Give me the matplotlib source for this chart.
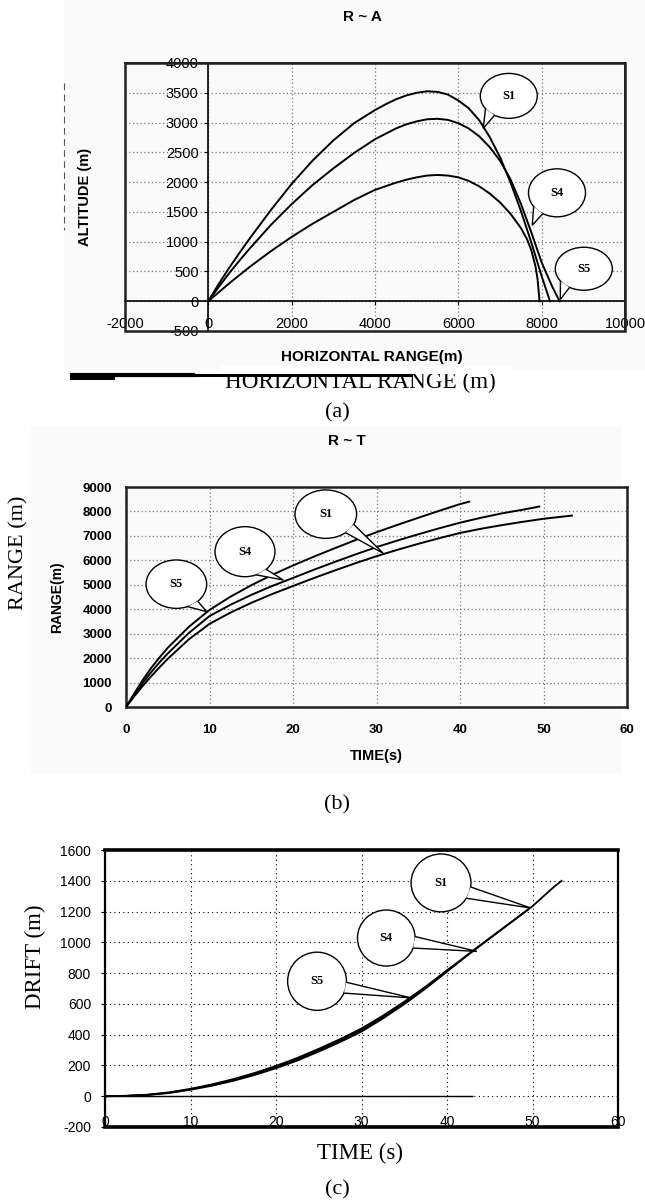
import matplotlib
matplotlib.use('Agg')
import matplotlib.pyplot as plt
from matplotlib.patches import Ellipse, Polygon, Rectangle
from matplotlib.lines import Line2D
import numpy as np

plt.rcParams['axes.unicode_minus'] = False
SANS = ['Liberation Sans', 'DejaVu Sans']
SERIF = ['Liberation Serif', 'DejaVu Serif']

# ---------------- (a) R ~ A : altitude vs horizontal range ----------------
a_xticks = [-2000, 0, 2000, 4000, 6000, 8000, 10000]
a_yticks = [-500, 0, 500, 1000, 1500, 2000, 2500, 3000, 3500, 4000]
a_high_x = [0, 250, 500, 750, 1000, 1500, 2000, 2500, 3000, 3500, 4000, 4250, 4500,
            4750, 5000, 5250, 5500, 5750, 6000, 6250, 6500, 6750, 7000, 7250, 7500,
            7750, 8000, 8200]
a_high_y = [0, 290, 560, 815, 1060, 1530, 1970, 2360, 2700, 2990, 3210, 3305, 3390,
            3455, 3500, 3525, 3515, 3470, 3370, 3240, 3040, 2760, 2420, 2000, 1520,
            990, 420, 0]
a_mid_x = [0, 250, 500, 750, 1000, 1500, 2000, 2500, 3000, 3500, 4000, 4500, 4750,
           5000, 5250, 5500, 5750, 6000, 6250, 6500, 6750, 7000, 7250, 7500, 7750,
           8000, 8250, 8430]
a_mid_y = [0, 240, 470, 685, 890, 1280, 1630, 1950, 2230, 2490, 2720, 2900, 2970,
           3020, 3055, 3063, 3045, 2990, 2900, 2770, 2590, 2360, 2050, 1640, 1160,
           650, 250, 0]
a_low_x = [0, 250, 500, 750, 1000, 1500, 2000, 2500, 3000, 3500, 4000, 4500, 4750,
           5000, 5250, 5500, 5750, 6000, 6250, 6500, 6750, 7000, 7250, 7500, 7650,
           7750, 7850, 7900, 7950]
a_low_y = [0, 150, 300, 440, 580, 840, 1080, 1300, 1500, 1700, 1870, 1990, 2040,
           2080, 2110, 2120, 2110, 2080, 2020, 1930, 1810, 1660, 1470, 1230, 1040,
           860, 590, 380, 0]

# ---------------- (b) R ~ T : range vs time ----------------
b_xticks = [0, 10, 20, 30, 40, 50, 60]
b_yticks = [0, 1000, 2000, 3000, 4000, 5000, 6000, 7000, 8000, 9000]
b_s5_t = [0, 1, 2, 3, 4, 5, 7.5, 10, 12.5, 15, 17.5, 20, 22.5, 25, 27.5, 30, 32.5, 35,
          37.5, 40, 41.1]
b_s5_r = [0, 560, 1100, 1590, 2020, 2420, 3270, 3970, 4510, 4980, 5405, 5790, 6150, 6495,
          6830, 7150, 7450, 7740, 8025, 8300, 8400]
b_s4_t = [0, 1, 2, 3, 4, 5, 7.5, 10, 12.5, 15, 17.5, 20, 22.5, 25, 27.5, 30, 32.5, 35,
          37.5, 40, 42.5, 45, 47.5, 49.5]
b_s4_r = [0, 500, 980, 1420, 1820, 2190, 3020, 3720, 4180, 4585, 4950, 5280, 5615, 5935,
          6245, 6540, 6810, 7065, 7310, 7540, 7740, 7920, 8070, 8200]
b_s1_t = [0, 1, 2, 3, 4, 5, 7.5, 10, 12.5, 15, 17.5, 20, 22.5, 25, 27.5, 30, 32.5, 35,
          37.5, 40, 42.5, 45, 47.5, 50, 53.4]
b_s1_r = [0, 440, 860, 1250, 1620, 1970, 2760, 3400, 3860, 4260, 4620, 4950, 5275, 5585,
          5885, 6170, 6430, 6675, 6905, 7120, 7290, 7440, 7575, 7700, 7830]

# ---------------- (c) drift vs time ----------------
c_xticks = [0, 10, 20, 30, 40, 50, 60]
c_yticks = [-200, 0, 200, 400, 600, 800, 1000, 1200, 1400, 1600]
c_s1_t = [0, 2.5, 5, 7.5, 10, 12.5, 15, 17.5, 20, 22.5, 25, 27.5, 30, 32.5, 35, 37.5,
          40, 42.5, 45, 47.5, 50, 52.5, 53.4]
c_s1_d = [0, 2, 8, 21, 42, 68, 100, 138, 182, 232, 290, 352, 420, 505, 598, 700,
          810, 920, 1025, 1130, 1235, 1360, 1400]
c_s4_t = [0, 2.5, 5, 7.5, 10, 12.5, 15, 17.5, 20, 22.5, 25, 27.5, 30, 32.5, 35, 37.5,
          40, 42.5, 45, 47.5, 49.5]
c_s4_d = [0, 2, 9, 23, 45, 73, 106, 145, 190, 241, 299, 362, 430, 514, 606, 707,
          816, 924, 1028, 1131, 1214]
c_s5_t = [0, 2.5, 5, 7.5, 10, 12.5, 15, 17.5, 20, 22.5, 25, 27.5, 30, 32.5, 35, 37.5,
          40, 41]
c_s5_d = [0, 3, 10, 25, 48, 77, 111, 151, 197, 249, 308, 371, 440, 523, 614, 712,
          818, 858]

W, H = 645, 1204
fig = plt.figure(figsize=(W / 100, H / 100), dpi=100)
fig.patch.set_facecolor('white')


def add_axes(l, t, r, b):
    ax = fig.add_axes([l / W, 1 - b / H, (r - l) / W, (b - t) / H])
    ax.set_facecolor('none')
    return ax


def ftext(px, py, s, **kw):
    fig.text(px / W, 1 - py / H, s, **kw)


def fline(xs, ys, **kw):
    fig.add_artist(Line2D([x / W for x in xs], [1 - y / H for y in ys], **kw))


def callout(ax, label, cx, cy, rx, ry, tip, angles, fs=9):
    ax.add_patch(Ellipse((cx, cy), 2 * rx, 2 * ry, facecolor='white',
                         edgecolor='black', lw=1.0, zorder=5))
    pts = []
    for a in angles:
        t = np.deg2rad(a)
        pts.append((cx + rx * np.cos(t), cy + ry * np.sin(t)))
    ax.add_patch(Polygon([pts[0], tip, pts[1]], closed=False, facecolor='white',
                         edgecolor='black', lw=1.0, zorder=6))
    ax.text(cx, cy, label, ha='center', va='center', family=SERIF,
            fontweight='bold', fontsize=fs, zorder=7)


# faint scan background
fig.add_artist(Rectangle((64 / W, 1 - 370 / H), (645 - 64) / W, 370 / H,
                         transform=fig.transFigure, facecolor='#fafafa',
                         edgecolor='none', zorder=-10))
fig.add_artist(Rectangle((31 / W, 1 - 773 / H), (621 - 31) / W, (773 - 427) / H,
                         transform=fig.transFigure, facecolor='#fafafa',
                         edgecolor='none', zorder=-10))

grid_kw = dict(color='#777777', linestyle=(0, (1, 2)), linewidth=0.9)

# ======================= (a) =======================
axA = add_axes(125, 63, 625, 331)
axA.set_xlim(-2000, 10000)
axA.set_ylim(-500, 4000)
axA.spines['left'].set_position(('data', 0))
axA.spines['bottom'].set_position(('data', 0))
for s in axA.spines.values():
    s.set_linewidth(1.2)
axA.add_patch(Rectangle((0, 0), 1, 1, transform=axA.transAxes, fill=False,
                        lw=1.8, edgecolor='#222222', clip_on=False, zorder=10))
axA.set_xticks(a_xticks)
axA.set_yticks(a_yticks)
axA.tick_params(length=3, width=0.8, labelsize=10.5)
axA.tick_params(axis='x', pad=8)
axA.tick_params(axis='y', pad=4)
for lab in axA.get_xticklabels() + axA.get_yticklabels():
    lab.set_family(SANS)
axA.grid(True, **grid_kw)
axA.set_axisbelow(True)
for xs, ys in [(a_high_x, a_high_y), (a_mid_x, a_mid_y), (a_low_x, a_low_y)]:
    axA.plot(xs, ys, color='black', lw=1.4, zorder=3)
callout(axA, 'S1', 7211, 3448, 684, 377, (6600, 2903), (215, 240))
callout(axA, 'S4', 8368, 1820, 684, 403, (7775, 1275), (215, 240))
callout(axA, 'S5', 9011, 545, 684, 361, (8447, 30), (215, 240))

ftext(362, 17, 'R ~ A', family=SANS, fontweight='bold', fontsize=11,
      ha='center', va='center')
ftext(372, 357, 'HORIZONTAL RANGE(m)', family=SANS, fontweight='bold',
      fontsize=11, ha='center', va='center')
ftext(85, 197, 'ALTITUDE (m)', family=SANS, fontweight='bold', fontsize=10.5,
      ha='center', va='center', rotation=90)
ftext(225, 388, 'HORIZONTAL RANGE (m)', family=SERIF, fontsize=16.7,
      ha='left', va='baseline')
fig.add_artist(Rectangle((220 / W, 1 - 374 / H), 290 / W, 8 / H,
                         transform=fig.transFigure, facecolor='white',
                         edgecolor='none', zorder=20))
fline([72, 411], [375.5, 375.5], color='black', lw=2.2, zorder=21)
fline([72, 193], [375.5, 375.5], color='black', lw=3.0, zorder=21)
fline([72, 112], [376.5, 376.5], color='black', lw=3.6, zorder=21)
fline([64, 64], [83, 230], color='#555555', lw=0.8, linestyle=(0, (6, 4)))
ftext(337, 413, '(a)', family=SERIF, fontsize=16, ha='center', va='center')

# ======================= (b) =======================
axB = add_axes(126, 487, 627, 707)
axB.set_xlim(0, 60)
axB.set_ylim(0, 9000)
for s in axB.spines.values():
    s.set_linewidth(1.8)
    s.set_edgecolor('#222222')
axB.set_xticks(b_xticks)
axB.set_yticks(b_yticks)
axB.tick_params(length=0, labelsize=9.5)
axB.tick_params(axis='x', pad=12)
axB.tick_params(axis='y', pad=10)
for lab in axB.get_xticklabels() + axB.get_yticklabels():
    lab.set_family(SANS)
    lab.set_fontweight('bold')
axB.grid(True, **grid_kw)
axB.set_axisbelow(True)
for ts, rs in [(b_s5_t, b_s5_r), (b_s4_t, b_s4_r), (b_s1_t, b_s1_r)]:
    axB.plot(ts, rs, color='black', lw=1.4, zorder=3)
callout(axB, 'S1', 23.93, 7889, 3.69, 990, (30.8, 6289), (-25, -50))
callout(axB, 'S4', 14.25, 6354, 3.59, 1023, (18.84, 5196), (-45, -68))
callout(axB, 'S5', 6.03, 5025, 3.63, 990, (9.66, 3900), (-45, -68))

ftext(347, 441, 'R ~ T', family=SANS, fontweight='bold', fontsize=11,
      ha='center', va='center')
ftext(376, 756, 'TIME(s)', family=SANS, fontweight='bold', fontsize=10.5,
      ha='center', va='center')
ftext(57, 597, 'RANGE(m)', family=SANS, fontweight='bold', fontsize=10,
      ha='center', va='center', rotation=90)
ftext(19, 553, 'RANGE (m)', family=SERIF, fontsize=16, ha='center',
      va='center', rotation=90)
ftext(337, 805, '(b)', family=SERIF, fontsize=16, ha='center', va='center')

# ======================= (c) =======================
axC = add_axes(105, 850, 618, 1127)
axC.set_xlim(0, 60)
axC.set_ylim(-200, 1600)
axC.spines['top'].set_linewidth(2.6)
axC.spines['bottom'].set_linewidth(2.6)
axC.spines['left'].set_linewidth(1.6)
axC.spines['right'].set_linewidth(1.6)
axC.set_xticks(c_xticks)
axC.set_yticks(c_yticks)
axC.tick_params(axis='y', length=3, labelsize=10, pad=7)
axC.tick_params(axis='x', length=0, labelsize=10, pad=-9)
for lab in axC.get_xticklabels() + axC.get_yticklabels():
    lab.set_family(SANS)
axC.grid(True, color='black', linestyle=(0, (1, 3)), linewidth=0.8)
axC.set_axisbelow(True)
axC.hlines(0, 0, 43, color='black', lw=1.0, zorder=2)
for ts, ds in [(c_s1_t, c_s1_d), (c_s4_t, c_s4_d), (c_s5_t, c_s5_d)]:
    axC.plot(ts, ds, color='black', lw=1.3, zorder=3)
callout(axC, 'S1', 39.3, 1386, 3.5, 188, (49.8, 1223), (-8, -32))
callout(axC, 'S4', 32.9, 1028, 3.37, 182, (43.5, 941), (3, -21))
callout(axC, 'S5', 24.8, 747, 3.44, 189, (35.8, 639), (-2, -24))

ftext(35, 957, 'DRIFT (m)', family=SERIF, fontsize=16.5, ha='center',
      va='center', rotation=90)
ftext(360, 1153, 'TIME (s)', family=SERIF, fontsize=16.5, ha='center',
      va='center')
ftext(337, 1190, '(c)', family=SERIF, fontsize=16, ha='center', va='center')

fig.savefig('out.png', dpi=100)
